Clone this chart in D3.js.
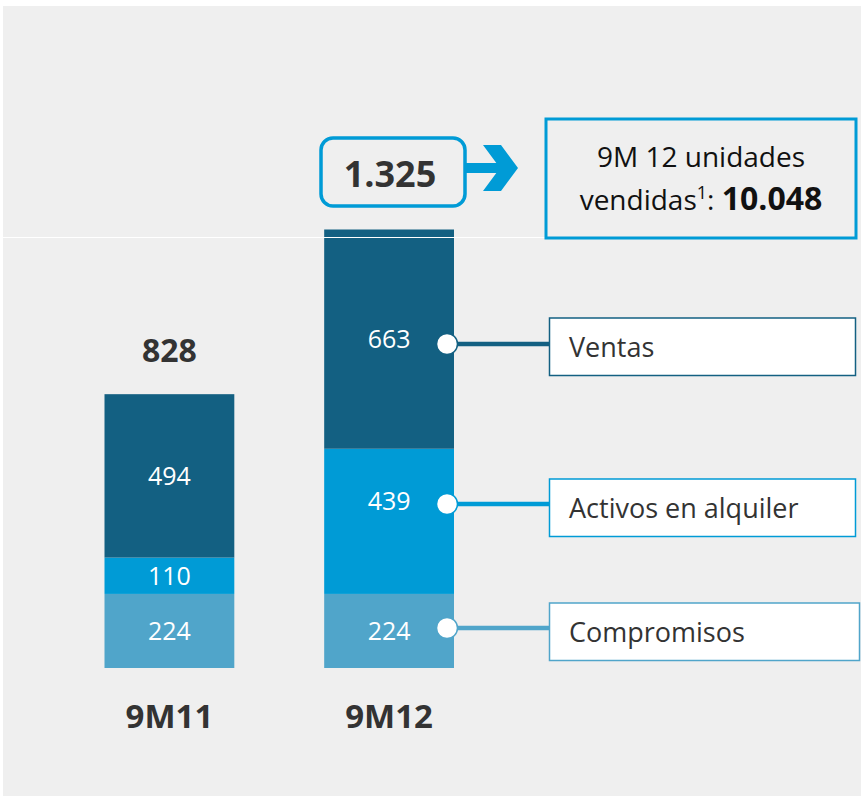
<!DOCTYPE html>
<html><head><meta charset="utf-8">
<script src="https://cdn.jsdelivr.net/npm/d3@7"></script>
<style>
html,body{margin:0;padding:0;background:#fff;}
svg{display:block;font-family:"Open Sans",sans-serif;}
</style></head>
<body>
<svg id="c" width="861" height="796"></svg>
<script>
const categories = ["9M11", "9M12"];
const seriesNames = ["Compromisos", "Activos en alquiler", "Ventas"];
const compromisos = [224, 224];
const activos = [110, 439];
const ventas = [494, 663];
const totalLabels = ["828", "1.325"];
const boxLine1 = "9M 12 unidades";
const boxLine2 = "vendidas";
const boxValue = "10.048";

const colors = ["#50a5ca", "#009bd6", "#136082"];
const svg = d3.select("#c");

svg.append("rect").attr("x", 3).attr("y", 6).attr("width", 858).attr("height", 790).attr("fill", "#efefef");

const x = d3.scaleBand().domain(categories).range([104.5, 454]).paddingInner(90/220).paddingOuter(0);
const y = d3.scaleLinear().domain([0, 1326]).range([668, 229.5]);

const rows = categories.map((c, i) => ({cat: c, Compromisos: compromisos[i], "Activos en alquiler": activos[i], Ventas: ventas[i]}));
const stacked = d3.stack().keys(seriesNames)(rows);

const g = svg.append("g");
stacked.forEach((layer, li) => {
  g.selectAll(null).data(layer).enter().append("rect")
    .attr("x", d => x(d.data.cat))
    .attr("width", x.bandwidth())
    .attr("y", d => y(d[1]))
    .attr("height", d => y(d[0]) - y(d[1]))
    .attr("fill", colors[li]);
});

// callout positions for 9M12 (layout)
const calloutY = [628, 504, 344];
const boxTop = [603, 479, 318];
const boxW = [310, 306, 306];

stacked.forEach((layer, li) => {
  g.selectAll(null).data(layer).enter().append("text")
    .attr("x", d => x(d.data.cat) + x.bandwidth()/2)
    .attr("y", (d, i) => (i === 1 && li === 1 ? calloutY[li] - 3 : (y(d[0]) + y(d[1]))/2) + 9)
    .attr("text-anchor", "middle")
    .attr("fill", "#fff")
    .attr("font-size", 25)
    .text(d => d[1] - d[0]);
});

// white horizontal line
svg.append("line").attr("x1", 3).attr("x2", 545).attr("y1", 237.5).attr("y2", 237.5)
  .attr("stroke", "#fff").attr("stroke-width", 1);

// callouts
const xr = x("9M12") + x.bandwidth() - 7;
seriesNames.forEach((s, i) => {
  svg.append("line").attr("x1", xr).attr("x2", 549).attr("y1", calloutY[i]).attr("y2", calloutY[i])
    .attr("stroke", colors[i]).attr("stroke-width", 4.5);
  svg.append("circle").attr("cx", xr).attr("cy", calloutY[i]).attr("r", 10.5)
    .attr("fill", "#fff").attr("stroke", colors[i]).attr("stroke-width", 1.5);
  svg.append("rect").attr("x", 549.5).attr("y", boxTop[i]).attr("width", boxW[i]).attr("height", 57.5)
    .attr("fill", "#fff").attr("stroke", colors[i]).attr("stroke-width", 1.5);
  svg.append("text").attr("x", 569).attr("y", boxTop[i] + 39).attr("font-size", 27).attr("fill", "#333").text(s);
});

// total 828
svg.append("text").attr("x", x("9M11") + x.bandwidth()/2).attr("y", y(828) - 32)
  .attr("text-anchor", "middle").attr("font-size", 32).attr("font-weight", "bold").attr("fill", "#333").text(totalLabels[0]);

// total 1.325 rounded box
svg.append("rect").attr("x", 321).attr("y", 138).attr("width", 144).attr("height", 68).attr("rx", 12)
  .attr("fill", "none").attr("stroke", "#009bd6").attr("stroke-width", 3.5);
svg.append("text").attr("x", 390).attr("y", 187).attr("text-anchor", "middle").attr("font-size", 36)
  .attr("font-weight", "bold").attr("fill", "#333").text(totalLabels[1]);

// arrow
svg.append("rect").attr("x", 466).attr("y", 163).attr("width", 38).attr("height", 10).attr("fill", "#009bd6");
svg.append("polygon").attr("points", "483,145 501,145 518,168 501,191 483,191 500,168").attr("fill", "#009bd6");

// info box
svg.append("rect").attr("x", 546).attr("y", 119).attr("width", 310).attr("height", 119)
  .attr("fill", "none").attr("stroke", "#009bd6").attr("stroke-width", 3);
svg.append("text").attr("x", 701).attr("y", 167).attr("text-anchor", "middle").attr("font-size", 28).attr("fill", "#111").text(boxLine1);
const t2 = svg.append("text").attr("x", 701).attr("y", 210).attr("text-anchor", "middle").attr("font-size", 28).attr("fill", "#111");
t2.append("tspan").text(boxLine2);
t2.append("tspan").attr("font-size", 18).attr("dy", -11).text("1");
t2.append("tspan").attr("dy", 11).text(": ");
t2.append("tspan").attr("font-weight", "bold").attr("font-size", 32).text(boxValue);

// category labels
svg.selectAll(null).data(categories).enter().append("text")
  .attr("x", d => x(d) + x.bandwidth()/2).attr("y", 728)
  .attr("text-anchor", "middle").attr("font-size", 33).attr("font-weight", "bold").attr("fill", "#333")
  .text(d => d);
</script>
</body></html>
